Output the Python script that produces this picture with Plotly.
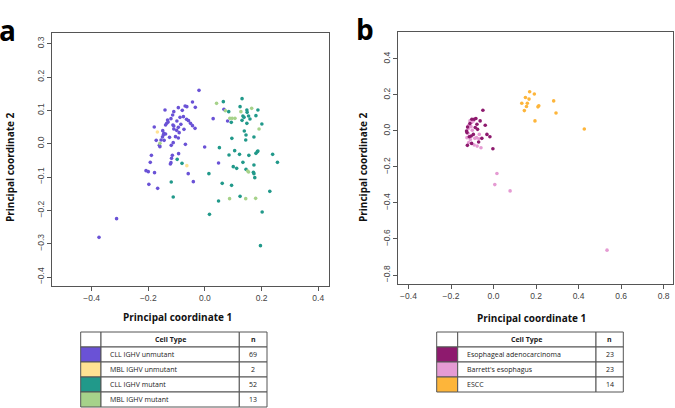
import plotly.graph_objects as go

W, H = 675, 408

# ---------------- Panel a data ----------------
cll_unmut_x = [-0.021, -0.044, -0.034, -0.070, -0.064, -0.094, -0.110, -0.141, -0.114, -0.132,
               -0.088, -0.076, -0.065, -0.058, -0.099, -0.135, -0.139, -0.113, -0.110, -0.085,
               -0.051, -0.044, -0.035, -0.179, -0.094, -0.149, -0.145, -0.139, -0.147, -0.110,
               -0.091, -0.074, -0.104, -0.125, -0.094, -0.172, -0.155, -0.144, -0.161, -0.159,
               -0.119, -0.112, -0.069, -0.001, -0.189, -0.115, -0.118, -0.093, -0.122, -0.120,
               -0.193, -0.208, -0.200, -0.178, -0.059, 0.048, -0.198, -0.167, -0.041, -0.312,
               -0.374, 0.029, 0.067, 0.080, -0.130, -0.100, -0.120, -0.150, -0.080]
cll_unmut_y = [0.160, 0.125, 0.109, 0.113, 0.111, 0.108, 0.096, 0.101, 0.086, 0.071,
               0.079, 0.081, 0.073, 0.069, 0.068, 0.061, 0.056, 0.056, 0.053, 0.058,
               0.061, 0.054, 0.046, 0.050, 0.049, 0.039, 0.031, 0.029, 0.026, 0.044,
               0.033, 0.043, 0.021, 0.019, 0.017, 0.010, 0.011, 0.010, -0.005, -0.009,
               -0.005, 0.003, -0.002, -0.010, -0.035, -0.035, -0.044, -0.030, -0.061, -0.057,
               -0.056, -0.081, -0.084, -0.087, -0.090, -0.058, -0.122, -0.134, -0.114, -0.225,
               -0.281, 0.075, 0.103, 0.068, 0.065, 0.040, 0.075, 0.020, 0.100]

mbl_unmut_x = [-0.168, -0.064]
mbl_unmut_y = [0.035, -0.066]

cll_mut_x = [0.065, 0.131, 0.124, 0.084, 0.148, 0.149, 0.187, 0.134, 0.138, 0.154,
             0.180, 0.159, 0.131, 0.148, 0.201, 0.139, 0.145, 0.144, 0.095, 0.173,
             0.051, 0.105, 0.085, 0.122, 0.155, 0.180, 0.185, 0.187, 0.239, 0.256,
             0.134, 0.173, 0.100, 0.112, 0.145, 0.171, 0.173, 0.176, 0.014, 0.061,
             0.094, 0.124, 0.229, 0.048, 0.016, 0.202, 0.196, -0.098, -0.081, -0.119,
             -0.112, 0.093]
cll_mut_y = [0.126, 0.135, 0.111, 0.096, 0.101, 0.094, 0.101, 0.083, 0.079, 0.083,
             0.084, 0.074, 0.070, 0.061, 0.059, 0.038, 0.026, 0.011, 0.016, 0.020,
             -0.012, -0.021, -0.034, -0.032, -0.035, -0.029, -0.024, -0.022, -0.032, -0.056,
             -0.056, -0.064, -0.069, -0.074, -0.077, -0.086, -0.090, -0.102, -0.090, -0.119,
             -0.125, -0.158, -0.143, -0.172, -0.212, -0.205, -0.306, -0.047, -0.059, -0.115,
             -0.160, 0.064]

mbl_mut_x = [0.041, 0.072, 0.088, 0.096, 0.106, 0.127, 0.165, 0.191, 0.151, 0.154,
             0.087, 0.144, 0.179, -0.159]
mbl_mut_y = [0.121, 0.099, 0.076, 0.076, 0.076, 0.096, 0.106, 0.044, -0.082, -0.085,
             -0.165, -0.165, -0.164, 0.001]

# ---------------- Panel b data ----------------
eac_x = [-0.050, -0.102, -0.091, -0.083, -0.063, -0.111, -0.078, -0.039, -0.122, -0.086,
         -0.075, -0.127, -0.125, -0.095, -0.105, -0.114, -0.031, -0.017, -0.055, -0.070,
         -0.123, -0.003, -0.103]
eac_y = [0.115, 0.065, 0.065, 0.069, 0.056, 0.041, 0.037, 0.032, 0.022, 0.019,
         0.009, 0.000, -0.009, -0.019, -0.028, -0.032, -0.019, -0.032, -0.041, -0.061,
         -0.080, -0.099, -0.069]

be_x = [-0.111, -0.117, -0.106, -0.100, -0.120, -0.113, -0.109, -0.117, -0.088, -0.080,
        -0.069, -0.091, -0.077, -0.059, -0.095, -0.103, -0.119, 0.016, 0.006, 0.078,
        0.534, -0.067, -0.125]
be_y = [0.056, 0.032, 0.024, 0.004, -0.013, -0.032, -0.047, -0.065, -0.041, -0.037,
        -0.043, -0.078, -0.084, -0.093, 0.056, 0.047, 0.013, -0.236, -0.298, -0.333,
        -0.662, -0.019, -0.037]

escc_x = [0.170, 0.192, 0.150, 0.167, 0.133, 0.159, 0.155, 0.145, 0.209, 0.213,
          0.283, 0.294, 0.195, 0.427]
escc_y = [0.218, 0.205, 0.186, 0.177, 0.154, 0.154, 0.136, 0.113, 0.134, 0.140,
          0.167, 0.100, 0.056, 0.011]

# ---------------- Tables ----------------
table_header = ["", "Cell Type", "n"]
labels_a = ["CLL IGHV unmutant", "MBL IGHV unmutant", "CLL IGHV mutant", "MBL IGHV mutant"]
counts_a = [69, 2, 52, 13]
colors_a = ["#6A52D6", "#FFE293", "#21998A", "#A6D28A"]

labels_b = ["Esophageal adenocarcinoma", "Barrett's esophagus", "ESCC"]
counts_b = [23, 23, 14]
colors_b = ["#8E1A6E", "#E59BD3", "#FDB53A"]

xticks_a = [-0.4, -0.2, 0.0, 0.2, 0.4]
yticks_a = [-0.4, -0.3, -0.2, -0.1, 0.0, 0.1, 0.2, 0.3]
xticks_b = [-0.4, -0.2, 0.0, 0.2, 0.4, 0.6, 0.8]
yticks_b = [-0.8, -0.6, -0.4, -0.2, 0.0, 0.2, 0.4]

fig = go.Figure()

def pts(x, y, color, xa, ya):
    fig.add_trace(go.Scatter(x=x, y=y, mode="markers", xaxis=xa, yaxis=ya,
                             marker=dict(color=color, size=3.6, line=dict(width=0)),
                             showlegend=False, hoverinfo="skip"))

pts(cll_unmut_x, cll_unmut_y, colors_a[0], "x", "y")
pts(cll_mut_x, cll_mut_y, colors_a[2], "x", "y")
pts(mbl_mut_x, mbl_mut_y, colors_a[3], "x", "y")
pts(mbl_unmut_x, mbl_unmut_y, colors_a[1], "x", "y")

pts(escc_x, escc_y, colors_b[2], "x2", "y2")
pts(be_x, be_y, colors_b[1], "x2", "y2")
pts(eac_x, eac_y, colors_b[0], "x2", "y2")

tfont = dict(family="Open Sans, Noto Sans, sans-serif", size=7, color="#222")
ROW_H = 15

def px(x):
    return x / W

def py(y):
    return 1 - y / H

def table(labels, counts, colors, x0, widths, ytop):
    xs = [x0]
    for w in widths:
        xs.append(xs[-1] + w)
    rows = [table_header] + [["", lab, str(c)] for lab, c in zip(labels, counts)]
    fills = [["white", "white", "white"]] + [[c, "white", "white"] for c in colors]
    for r, row in enumerate(rows):
        y0 = ytop + r * ROW_H
        y1 = y0 + ROW_H
        for c in range(3):
            fig.add_shape(type="rect", xref="paper", yref="paper",
                          x0=px(xs[c]), x1=px(xs[c + 1]), y0=py(y1), y1=py(y0),
                          fillcolor=fills[r][c], line=dict(color="#555", width=1),
                          layer="above")
            txt = row[c]
            if not txt:
                continue
            if r == 0:
                txt = "<b>" + txt + "</b>"
            if c == 1 and r > 0:
                ax, xa = xs[c] + 7, "left"
            else:
                ax, xa = (xs[c] + xs[c + 1]) / 2, "center"
            fig.add_annotation(xref="paper", yref="paper", x=px(ax), y=py((y0 + y1) / 2),
                               text=txt, showarrow=False, xanchor=xa, yanchor="middle",
                               font=tfont)

table(labels_a, counts_a, colors_a, 80.7, [20.3, 138.3, 27.7], 332)
table(labels_b, counts_b, colors_b, 436.7, [21.0, 138.3, 27.3], 332)

axcommon = dict(showgrid=False, zeroline=False, showline=True, mirror=True,
                linecolor="#555", linewidth=1, ticks="outside", ticklen=4,
                tickcolor="#555", tickformat=".1f",
                tickfont=dict(family="Liberation Sans, Arial, sans-serif", size=8.5, color="#444"))

fig.update_layout(
    width=W, height=H, margin=dict(l=0, r=0, t=0, b=0),
    paper_bgcolor="white", plot_bgcolor="white",
    xaxis=dict(domain=[52 / W, 329 / W], range=[-0.54, 0.438], tickvals=xticks_a,
               anchor="y", **axcommon),
    yaxis=dict(domain=[1 - 286 / H, 1 - 33 / H], range=[-0.427, 0.332], tickvals=yticks_a,
               anchor="x", tickangle=-90, **axcommon),
    xaxis2=dict(domain=[398.3 / W, 672.5 / W], range=[-0.448, 0.842], tickvals=xticks_b,
                anchor="y2", **axcommon),
    yaxis2=dict(domain=[1 - 284 / H, 1 - 32.3 / H], range=[-0.85, 0.548], tickvals=yticks_b,
                anchor="x2", tickangle=-90, **axcommon),
)

tt = dict(family="Open Sans, Noto Sans, sans-serif", size=10, color="#111")
ann = [
    dict(text="<b>a</b>", x=7 / W, y=1 - 30 / H, font=dict(family="Open Sans, sans-serif", size=28, color="#000")),
    dict(text="<b>b</b>", x=365 / W, y=1 - 29 / H, font=dict(family="Open Sans, sans-serif", size=28, color="#000")),
    dict(text="<b>Principal coordinate 1</b>", x=177 / W, y=1 - 317 / H, font=tt),
    dict(text="<b>Principal coordinate 1</b>", x=531 / W, y=1 - 318 / H, font=tt),
    dict(text="<b>Principal coordinate 2</b>", x=10 / W, y=1 - 167 / H, font=tt, textangle=-90),
    dict(text="<b>Principal coordinate 2</b>", x=363 / W, y=1 - 167 / H, font=tt, textangle=-90),
]
for a in ann:
    fig.add_annotation(xref="paper", yref="paper", showarrow=False,
                       xanchor="center", yanchor="middle", **a)

fig.write_html("out.html", config={"displayModeBar": False},
               post_script="document.body.style.margin='0px';document.body.style.overflow='hidden';")
